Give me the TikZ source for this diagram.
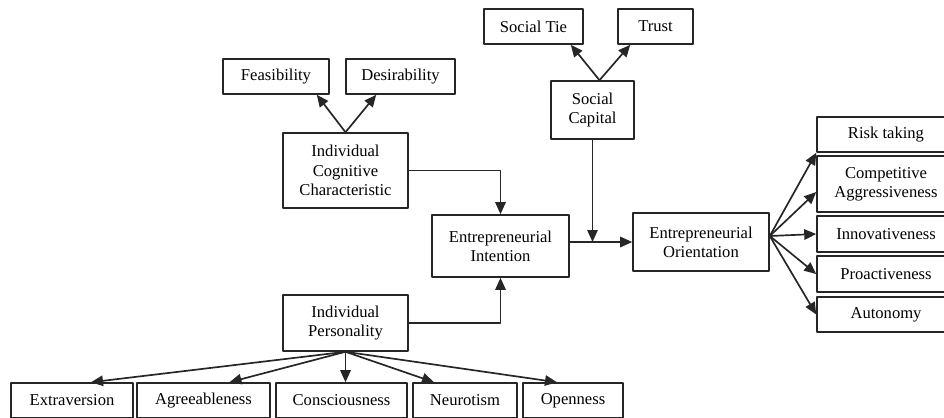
\documentclass[tikz,border=0pt]{standalone}
\usepackage{fontspec}
\setmainfont{Liberation Serif}
\usetikzlibrary{arrows.meta}

\definecolor{boxline}{HTML}{262626}

\begin{document}
\begin{tikzpicture}[
  x=0.25mm,
  y=-0.25mm,
  line join=round,
  box/.style={draw=boxline,line width=1.1pt,align=center,inner sep=0pt,
    minimum height=8.75mm,font=\fontsize{11.8}{13.7}\selectfont},
  link/.style={draw=boxline,line width=1.2pt,-{Triangle[length=3mm,width=2.6mm]}}
]
  % Match the artwork frame; the right column and bottom row run off the edge.
  \useasboundingbox (0,0) rectangle (944,417);

  % Cognitive branch at the upper left.
  \node[box,minimum width=26.5mm] (feas) at (276,76.5) {Feasibility};
  \node[box,minimum width=27.25mm] (desir) at (400.5,76.5) {Desirability};
  \node[box,minimum width=31.25mm,minimum height=18.75mm] (icc) at (345.5,170.5)
    {Individual\\Cognitive\\Characteristic};

  % Social capital branch at the top.
  \node[box,minimum width=24.75mm] (stie) at (533.5,26.5) {Social Tie};
  \node[box,minimum width=18.75mm] (trust) at (655.5,26.5) {Trust};
  \node[box,minimum width=20.75mm,minimum height=14.5mm] (scap) at (592.5,110)
    {Social\\Capital};

  % Central intention and orientation boxes.
  \node[box,minimum width=34.25mm,minimum height=15.5mm] (eint) at (500.5,246)
    {Entrepreneurial\\Intention};
  \node[box,minimum width=34mm,minimum height=14.5mm] (eor) at (701,242)
    {Entrepreneurial\\Orientation};

  % Orientation dimensions on the right.
  \node[box,minimum width=34.5mm] (risk) at (886,134.5) {Risk taking};
  \node[box,minimum width=34.5mm,minimum height=14mm] (comp) at (886,184)
    {Competitive\\Aggressiveness};
  \node[box,minimum width=34.5mm,minimum height=9mm] (innov) at (886,234) {Innovativeness};
  \node[box,minimum width=34.5mm,minimum height=9mm] (proact) at (886,274) {Proactiveness};
  \node[box,minimum width=34.5mm] (auton) at (886,314.5) {Autonomy};

  % Personality branch and its five traits along the bottom.
  \node[box,minimum width=31.25mm,minimum height=14mm] (ipers) at (345.5,323)
    {Individual\\Personality};
  \foreach \n/\x/\w/\t in {extra/72/30.5/Extraversion,agree/203.5/33.25/Agreeableness,
      consc/341.5/32.75/Consciousness,neuro/465/26/Neurotism,open/573/25/Openness} {
    \node[box,minimum width=\w mm] (\n) at (\x,400.5) {\t};
  }

  % Forks out of the upper boxes.
  \draw[link] (icc.north) -- ([xshift=-3.25mm]feas.south east);
  \draw[link] (icc.north) -- ([xshift=7.75mm]desir.south west);
  \draw[link] ([xshift=1.75mm]scap.north) -- ([xshift=-3.25mm]stie.south east);
  \draw[link] ([xshift=1.75mm]scap.north) -- ([xshift=3.25mm]trust.south west);

  % Elbow links into the intention box and the main path.
  \draw[link] (icc.east) -| (eint.north);
  \draw[link] (ipers.east) -| (eint.south);
  \draw[link] (eint.east |- eor.west) -- (eor.west);
  \draw[link] (scap.south) -- (scap.south |- eor.west);

  % Fan out to the orientation dimensions.
  \draw[link] ([yshift=1.5mm]eor.east) -- (risk.south west);
  \draw[link] ([yshift=1.5mm]eor.east) -- ([yshift=-2mm]comp.west);
  \draw[link] ([yshift=1.5mm]eor.east) -- (innov.west);
  \draw[link] ([yshift=1.5mm]eor.east) -- (proact.west);
  \draw[link] ([yshift=1.5mm]eor.east) -- (auton.west);

  % Fan down to the personality traits.
  \draw[link] (ipers.south) -- ([xshift=4.75mm]extra.north);
  \draw[link] (ipers.south) -- ([xshift=6.5mm]agree.north);
  \draw[link] (ipers.south) -- (ipers.south |- consc.north);
  \draw[link] (ipers.south) -- ([xshift=-7.75mm]neuro.north);
  \draw[link] (ipers.south) -- ([xshift=-4mm]open.north);
\end{tikzpicture}
\end{document}
